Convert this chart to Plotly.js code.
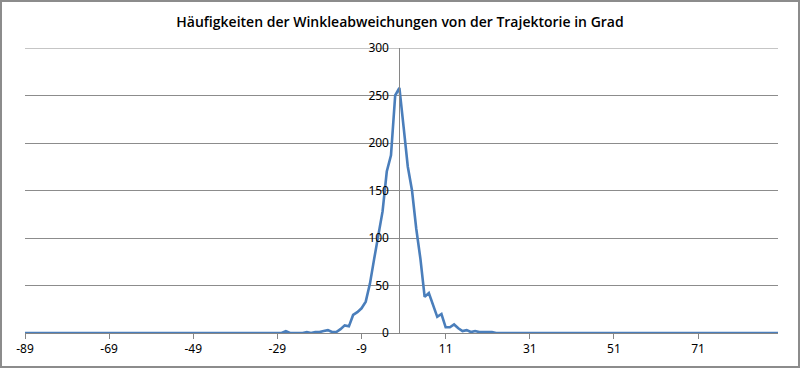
<!DOCTYPE html>
<html>
<head>
<meta charset="utf-8">
<script src="https://cdn.plot.ly/plotly-3.0.1.min.js"></script>
<style>
html,body{margin:0;padding:0;background:#fff;}
#chart{width:800px;height:368px;position:absolute;left:0;top:0;}
#frame{position:absolute;left:0;top:0;width:800px;height:368px;box-sizing:border-box;border:2px solid #8c8c8c;pointer-events:none;}
</style>
</head>
<body>
<div id="chart"></div>
<div id="frame"></div>
<script>
// Angular deviation (degrees), categories -89 .. 90
var angleStart = -89;
var angleEnd = 90;
var categories = [];
for (var a = angleStart; a <= angleEnd; a++) categories.push(a);

// Frequencies per angle
var frequencies = [
  0,0,0,0,0,0,0,0,0,0,        // -89 .. -80
  0,0,0,0,0,0,0,0,0,0,        // -79 .. -70
  0,0,0,0,0,0,0,0,0,0,        // -69 .. -60
  0,0,0,0,0,0,0,0,0,0,        // -59 .. -50
  0,0,0,0,0,0,0,0,0,0,        // -49 .. -40
  0,0,0,0,0,0,0,0,0,0,        // -39 .. -30
  0,0,                        // -29 .. -28
  2,0,0,0,0,1,0,1,1,2,        // -27 .. -18
  3,1,1,4,8,7,19,22,26,33,    // -17 .. -8
  52,78,105,128,170,187,250,  // -7 .. -1
  258,                        // 0
  217,175,150,110,78,38,42,29,17,20, // 1 .. 10
  6,6,9,5,2,3,1,2,1,1,        // 11 .. 20
  1,1,0,                      // 21 .. 23
  0,0,0,0,0,0,0,              // 24 .. 30
  0,0,0,0,0,0,0,0,0,0,        // 31 .. 40
  0,0,0,0,0,0,0,0,0,0,        // 41 .. 50
  0,0,0,0,0,0,0,0,0,0,        // 51 .. 60
  0,0,0,0,0,0,0,0,0,0,        // 61 .. 70
  0,0,0,0,0,0,0,0,0,0,        // 71 .. 80
  0,0,0,0,0,0,0,0,0,0         // 81 .. 90
];

var xTickVals = [-89,-69,-49,-29,-9,11,31,51,71];
var xTickText = ["-89","-69","-49","-29","-9","11","31","51","71"];
var yTickVals = [0,50,100,150,200,250,300];
var yMax = 300;

var titleText = "Häufigkeiten der Winkleabweichungen von der Trajektorie in Grad";

var trace = {
  x: categories,
  y: frequencies,
  type: 'scatter',
  mode: 'lines',
  line: {color: '#4A7EBB', width: 2.6},
  hoverinfo: 'x+y'
};

var gridColor = '#8c8c8c';

var layout = {
  width: 800,
  height: 368,
  margin: {l: 25, r: 22, t: 48, b: 35},
  paper_bgcolor: '#ffffff',
  plot_bgcolor: '#ffffff',
  showlegend: false,
  title: {
    text: titleText,
    font: {family: 'Open Sans, Noto Sans, sans-serif', size: 14, color: '#000000', weight: 600},
    x: 0.5, xanchor: 'center', y: 0.94, yanchor: 'middle', yref: 'container'
  },
  xaxis: {
    type: 'linear',
    range: [angleStart, angleEnd],
    tickmode: 'array',
    tickvals: xTickVals,
    ticktext: xTickText,
    showgrid: false,
    zeroline: false,
    showline: true,
    linecolor: '#868686',
    linewidth: 1,
    ticks: 'outside',
    ticklen: 5,
    tickcolor: '#868686',
    tickfont: {family: 'Noto Sans, sans-serif', size: 12, color: '#000000'},
    fixedrange: true
  },
  yaxis: {
    range: [0, yMax],
    tickmode: 'array',
    tickvals: yTickVals,
    showgrid: true,
    gridcolor: gridColor,
    gridwidth: 1,
    zeroline: false,
    showline: true,
    linecolor: '#868686',
    linewidth: 1,
    anchor: 'free',
    position: (0 - angleStart) / (angleEnd - angleStart),
    ticks: '',
    ticklabelstandoff: 8,
    tickfont: {family: 'Noto Sans, sans-serif', size: 12, color: '#000000'},
    fixedrange: true
  },
  shapes: [{
    type: 'line', xref: 'paper', yref: 'y',
    x0: 0, x1: 1, y0: yMax, y1: yMax,
    line: {color: gridColor, width: 1},
    layer: 'below'
  }]
};

Plotly.newPlot('chart', [trace], layout, {displayModeBar: false, staticPlot: true});
</script>
</body>
</html>
